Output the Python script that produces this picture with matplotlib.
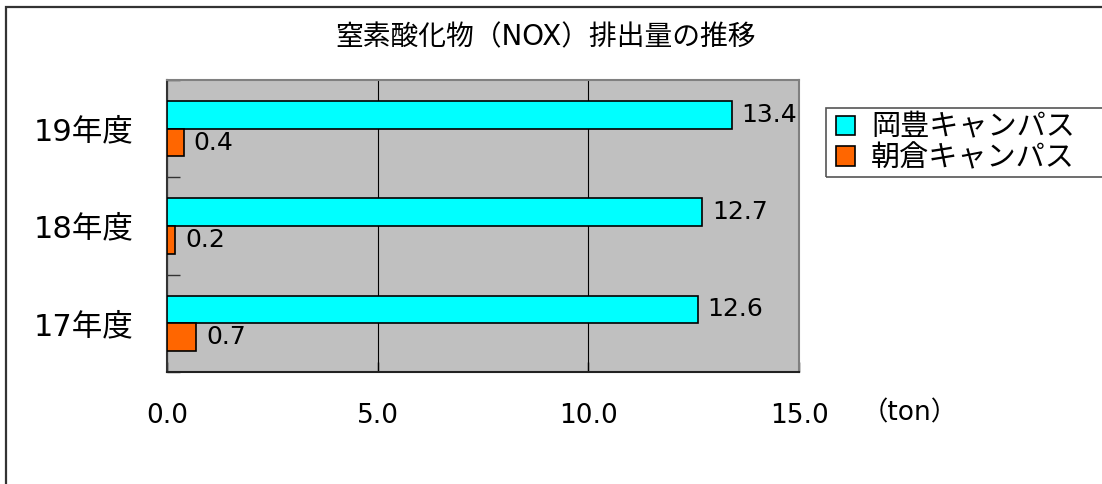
import matplotlib
matplotlib.use("Agg")
import matplotlib.pyplot as plt
import matplotlib.transforms as mtransforms
from matplotlib.patches import Rectangle, Patch
import numpy as np

plt.rcParams['font.family'] = ['DejaVu Sans', 'Noto Sans CJK JP']

# Data
years = ['17年度', '18年度', '19年度']
okou = [12.6, 12.7, 13.4]      # 岡豊キャンパス
asakura = [0.7, 0.2, 0.4]      # 朝倉キャンパス
series_names = ['岡豊キャンパス', '朝倉キャンパス']
xticks = [0.0, 5.0, 10.0, 15.0]
title = '窒素酸化物（NOX）排出量の推移'
unit = '（ton）'

W, H = 1102, 484
fig = plt.figure(figsize=(W / 100, H / 100), dpi=100)
ax = fig.add_axes([167 / W, 1 - 372 / H, (799 - 167) / W, (372 - 80) / H])
ax.set_facecolor('#C0C0C0')

y = np.arange(len(years))
h = 0.285
c1, c2 = '#00FFFF', '#FF6600'
b1 = ax.barh(y + h / 2, okou, height=h, color=c1, edgecolor='black', linewidth=1.2, zorder=3)
b2 = ax.barh(y - h / 2, asakura, height=h, color=c2, edgecolor='black', linewidth=1.2, zorder=3)

for bars, vals in ((b1, okou), (b2, asakura)):
    for bar, v in zip(bars, vals):
        ax.annotate(f'{v:.1f}', xy=(v, bar.get_y() + bar.get_height() / 2),
                    xytext=(7, 0), textcoords='offset points',
                    ha='left', va='center', fontsize=18, zorder=4)

ax.set_xlim(0, 15)
ax.set_ylim(-0.5, len(years) - 0.5)
ax.set_xticks(xticks)
ax.set_xticklabels([f'{t:.1f}' for t in xticks], fontsize=19)
offset = mtransforms.ScaledTranslation(-5 / 100, 0, fig.dpi_scale_trans)
for lbl in ax.get_xticklabels():
    lbl.set_transform(lbl.get_transform() + offset)
ax.tick_params(axis='x', direction='in', length=7, width=1, color='black', pad=22)
ax.xaxis.grid(True, color='black', linewidth=0.8, zorder=1)
ax.set_axisbelow(True)

ax.set_yticks(y)
ax.set_yticklabels(years, fontsize=22)
ax.tick_params(axis='y', which='major', length=0, pad=24)
ax.set_yticks(np.arange(-0.5, len(years), 1.0), minor=True)
ax.tick_params(axis='y', which='minor', direction='in', length=9, width=1, color='#333333')

ax.spines['left'].set_color('#333333')
ax.spines['bottom'].set_color('#222222')
ax.spines['top'].set_color('#808080')
ax.spines['right'].set_color('#808080')
for s in ax.spines.values():
    s.set_linewidth(1.5)

ax.text((910 - 167) / (799 - 167), -(413 - 372) / (372 - 80), unit,
        transform=ax.transAxes, ha='center', va='center', fontsize=19)

fig.text(546 / W, 1 - 37 / H, title, ha='center', va='center', fontsize=20)

# Legend with its own frame running off the right edge
handles = [Patch(facecolor=c1, edgecolor='black', linewidth=1.2),
           Patch(facecolor=c2, edgecolor='black', linewidth=1.2)]
fig.legend(handles, series_names, loc='center left',
           bbox_to_anchor=(836 / W, 1 - 143 / H), frameon=False,
           fontsize=21, handlelength=0.65, handleheight=0.65,
           handletextpad=0.55, labelspacing=0.1, borderpad=0, borderaxespad=0)
fig.patches.append(Rectangle((826 / W, 1 - 177 / H), 0.3, (177 - 108) / H,
                             transform=fig.transFigure, fill=False,
                             edgecolor='#555555', linewidth=1.2, clip_on=False))

# Outer frame of the chart
fig.patches.append(Rectangle((6 / W, -0.1), 1.2, 1.1 - 7 / H,
                             transform=fig.transFigure, fill=False,
                             edgecolor='#333333', linewidth=1.6, clip_on=False))

fig.savefig('out.png', dpi=100)
